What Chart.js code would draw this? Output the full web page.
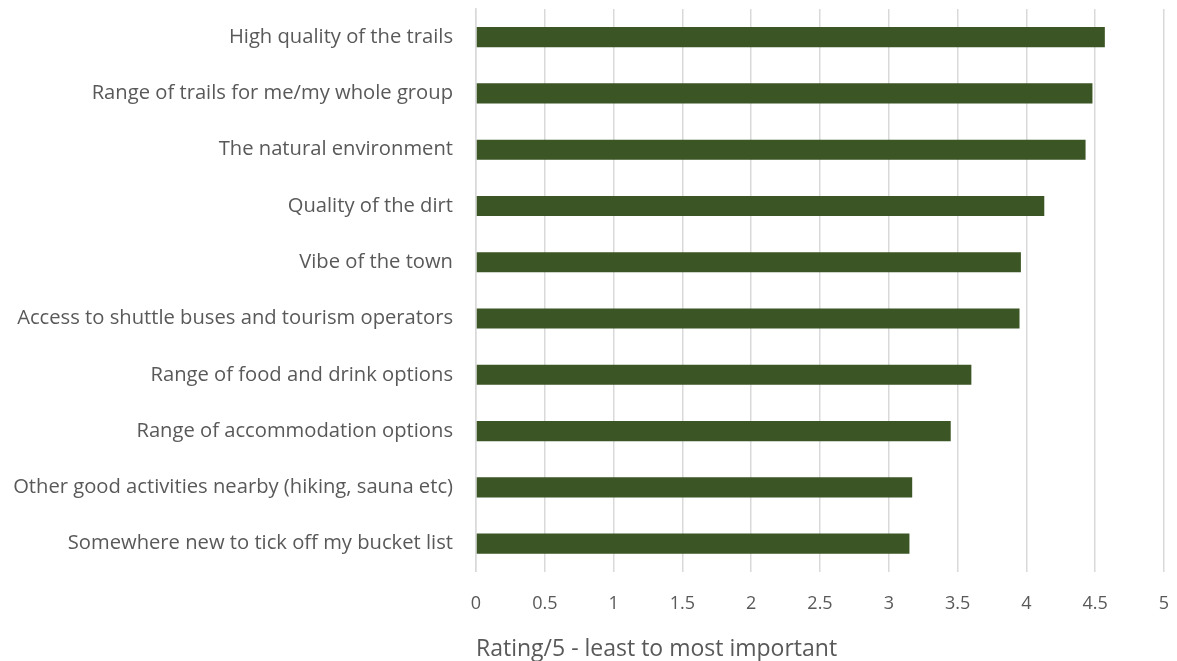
<!DOCTYPE html>
<html>
<head>
<meta charset="utf-8">
<script src="https://cdn.jsdelivr.net/npm/chart.js@4"></script>
<style>
html,body{margin:0;padding:0;background:#fff;}
#wrap{width:1177px;height:661px;}
</style>
</head>
<body>
<div id="wrap"><canvas id="c" width="1177" height="661"></canvas></div>
<script>
const categories = [
  "High quality of the trails",
  "Range of trails for me/my whole group",
  "The natural environment",
  "Quality of the dirt",
  "Vibe of the town",
  "Access to shuttle buses and tourism operators",
  "Range of food and drink options",
  "Range of accommodation options",
  "Other good activities nearby (hiking, sauna etc)",
  "Somewhere new to tick off my bucket list"
];
const ratings = [4.57, 4.48, 4.43, 4.13, 3.96, 3.95, 3.60, 3.45, 3.17, 3.15];
const axisTitle = "Rating/5 - least to most important";
const xMin = 0, xMax = 5, xStep = 0.5;

new Chart(document.getElementById('c'), {
  type: 'bar',
  data: {
    labels: categories,
    datasets: [{
      data: ratings,
      backgroundColor: '#3b5524',
      borderWidth: 0,
      barPercentage: 0.357,
      categoryPercentage: 1.0
    }]
  },
  options: {
    indexAxis: 'y',
    responsive: false,
    animation: false,
    layout: { padding: { left: 0, right: 13, top: 9, bottom: -5 } },
    plugins: { legend: { display: false }, tooltip: { enabled: false } },
    scales: {
      y: {
        grid: { display: false, drawTicks: false },
        border: { display: true, color: '#d9d9d9', width: 1.5 },
        ticks: {
          color: '#595959',
          font: { family: 'Open Sans', size: 20.2 },
          padding: 23
        },
        afterFit: (s) => { s.width = 476; s.paddingTop = 0; s.paddingBottom = 0; }
      },
      x: {
        min: xMin, max: xMax,
        grid: { color: '#d9d9d9', lineWidth: 1.5, drawTicks: true, tickLength: 0 },
        border: { display: false },
        ticks: {
          stepSize: xStep,
          color: '#595959',
          font: { family: 'Open Sans', size: 18 },
          padding: 21,
          callback: (v) => String(v)
        },
        title: {
          display: true,
          text: axisTitle,
          align: 'start',
          color: '#595959',
          font: { family: 'Open Sans', size: 23 },
          padding: { top: 0, bottom: 3 }
        },
        afterFit: (s) => { s.paddingLeft = 0; s.paddingRight = 0; }
      }
    }
  }
});
</script>
</body>
</html>
